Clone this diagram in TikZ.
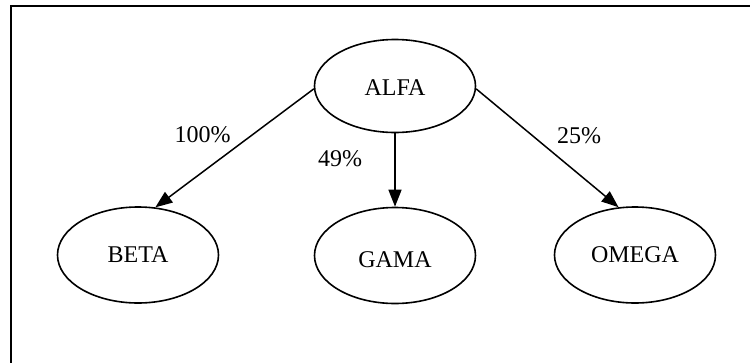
\documentclass[tikz,border=0pt]{standalone}
\usepackage{fontspec}
\setmainfont{Liberation Serif}
\usetikzlibrary{arrows.meta,shapes.geometric}
\begin{document}
\begin{tikzpicture}[x=1pt,y=-1pt,
  ell/.style={ellipse,draw,line width=1.6pt,minimum width=161pt,minimum height=96pt,inner sep=0pt,
    font=\fontsize{24}{28}\selectfont},
  lbl/.style={inner sep=0pt,font=\fontsize{24}{28}\selectfont},
  arr/.style={line width=1.5pt,-{Triangle[length=17pt,width=13pt]}}]
\useasboundingbox (0,0) rectangle (750,362);
\clip (0,0) rectangle (750,362);
\draw[line width=2.2pt] (11,6) rectangle (780,390);
\node[ell,minimum height=93pt,text height=18pt] (alfa) at (395,86) {ALFA};
\node[ell] (beta) at (138,255) {BETA};
\node[ell,text height=24.8pt] (gama) at (395,255.5) {GAMA};
\node[ell] (omega) at (635,255) {OMEGA};
\draw[arr] (alfa.182.3) -- (beta.70.6);
\draw[arr] (alfa.south) -- (gama.north);
\draw[arr] (alfa.358.4) -- (omega.109);
\node[lbl] (l1) at (202.7,135) {100\%};
\node[lbl] (l2) at (340,159) {49\%};
\node[lbl] (l3) at (579,136) {25\%};
\end{tikzpicture}
\end{document}
